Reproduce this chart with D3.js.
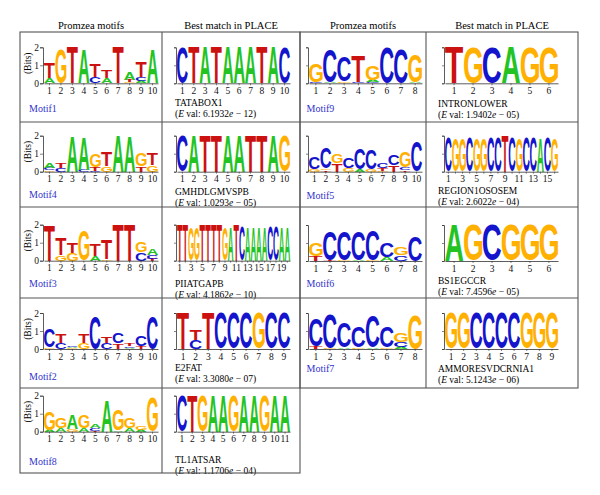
<!DOCTYPE html>
<html>
<head>
<meta charset="utf-8">
<script src="https://cdn.jsdelivr.net/npm/d3@7"></script>
<style>
  body { margin: 0; background: #fff; }
  text { font-family: "Liberation Serif", "DejaVu Serif", serif; }
</style>
</head>
<body>
<div id="content"></div>
<script>
// ---- data: bits per letter at every position ----
const motif1 = [{A:.3,T:.88},{G:1.9},{T:2},{A:1.9},{C:.35,T:.75},{A:.3,T:.4},{T:2},{G:.05,T:.15,A:.45},{A:.12,C:.22,T:.85},{A:1.9}];
const tatabox1 = [{C:2},{T:2},{A:2},{T:2},{A:2},{A:2},{A:2},{T:2},{A:2},{C:2}];
const motif4 = [{G:.08,C:.15,A:.3},{C:.2,T:.3},{A:1.95},{C:.12,A:1.8},{C:.05,T:.2,G:.75},{G:.3,T:.8},{A:2},{A:1.95},{T:.3,G:.75},{G:.35,T:.65}];
const gmhdlgmvspb = [{C:2},{A:2},{T:2},{T:2},{A:2},{A:2},{T:2},{T:2},{A:2},{G:2}];
const motif3 = [{T:1.95},{G:.3,T:.9},{G:.45,T:.58},{G:1.65},{A:.25,T:.65},{G:.1,T:1.05},{T:2},{T:2},{C:.45,G:.55},{T:.1,C:.2,A:.37}];
const piiatgapb = [{T:2},{T:2},{G:1.85},{G:1.85},{T:2},{T:2},{T:2},{T:2},{G:1.85},{A:1.9},{T:2},{C:1.9},{A:1.9},{A:1.9},{A:1.9},{A:1.9},{C:1.9},{C:1.9},{A:1.9},{A:1.9}];
const motif2 = [{G:.1,C:1.0},{C:.35,T:.5},{G:.05,A:.05,C:.1},{G:.35,T:.5},{C:1.85},{C:.35,T:.35},{T:.3,C:.55},{A:.05,C:.1,T:.15},{T:.15,C:.6},{C:1.85}];
const e2fat = [{T:2},{C:.5,T:.6},{T:2},{C:2},{C:2},{C:2},{G:2},{C:2},{C:2}];
const motif8 = [{A:.1,G:1.0},{A:.2,G:.55},{G:.15,A:.75},{A:.2,G:.7},{T:.05,C:.15,A:.2},{A:1.75},{A:.05,G:1.2},{A:.2,G:.6},{A:.1,G:.2},{G:1.9}];
const tl1atsar = [{C:2},{T:2},{G:2},{A:2},{A:2},{G:2},{A:2},{A:2},{G:2},{A:2},{A:2}];

const motif9 = [{C:.08,G:1.0},{A:.05,C:1.8},{G:.1,C:1.4},{C:.1,T:1.45},{C:.05,A:.1,G:.8},{C:2},{C:1.87},{A:.05,G:1.55}];
const intronlower = [{T:2},{G:2},{C:2},{A:2},{G:2},{G:2}];
const motif5 = [{G:.15,C:.68},{T:.08,G:.1,C:1.15},{T:.45,G:.52},{G:.22,C:.58},{A:.15,C:1.2},{G:.15,C:1.1},{G:.05,T:.15,C:.27},{T:.35,C:.57},{T:.08,C:.15,G:.87},{C:1.7}];
const region1ososem = [{C:1.9},{G:1.85},{G:1.85},{C:1.9},{G:1.85},{G:1.85},{C:1.9},{C:1.9},{T:2},{C:1.9},{G:1.85},{C:1.9},{C:1.9},{A:1.85},{C:1.9},{G:1.85}];
const motif6 = [{T:.25,G:.75},{T:.05,C:1.6},{G:.05,C:1.6},{A:.05,C:1.6},{G:.05,C:1.65},{A:.2,C:.77},{C:.3,G:.45},{C:1.37}];
const bs1egccr = [{A:2},{G:2},{C:2},{G:2},{G:2},{G:2}];
const motif7 = [{T:.15,C:1.55},{G:.05,C:1.9},{A:.08,C:1.4},{G:.1,C:1.2},{A:.08,C:1.75},{G:.08,C:1.15},{A:.1,C:.3,G:.5},{G:1.9}];
const ammoresvdcrnia1 = [{G:2},{G:2},{C:2},{C:2},{C:2},{C:2},{G:2},{G:2},{G:2}];

const motifNames = ["Motif1","Motif4","Motif3","Motif2","Motif8","Motif9","Motif5","Motif6","Motif7"];
const matchNames = ["TATABOX1","GMHDLGMVSPB","PIIATGAPB","E2FAT","TL1ATSAR","INTRONLOWER","REGION1OSOSEM","BS1EGCCR","AMMORESVDCRNIA1"];
const evalMantissa = ["6.1932","1.0293","4.1862","3.3080","1.1706","1.9402","2.6022","7.4596","5.1243"];
const evalExponent = ["12","05","10","07","04","05","04","05","06"];
const motifLogos = [motif1, motif4, motif3, motif2, motif8, motif9, motif5, motif6, motif7];
const matchLogos = [tatabox1, gmhdlgmvspb, piiatgapb, e2fat, tl1atsar, intronlower, region1ososem, bs1egccr, ammoresvdcrnia1];
const headers = ["Promzea motifs", "Best match in PLACE", "Promzea motifs", "Best match in PLACE"];

// ---- layout ----
const width = 600, height = 495;
const colX = [20, 162, 300, 426, 578];
const leftRowY = [32, 122, 207, 298, 388, 473];
const rightRowY = [32, 122, 207, 298, 388];
// per row: baseline of logo, motif name y, match name y
const leftRows = [
  {y0: 83.3, nameY: 108, matchY: 102.5},
  {y0: 171.7, nameY: 194, matchY: 192},
  {y0: 260.7, nameY: 283.3, matchY: 283.3},
  {y0: 349, nameY: 376.7, matchY: 367.3},
  {y0: 431.7, nameY: 461.7, matchY: 459.3}
];
const rightRows = [
  {y0: 83.3, nameY: 108, matchY: 104},
  {y0: 171.7, nameY: 195, matchY: 191},
  {y0: 261, nameY: 283.3, matchY: 280.7},
  {y0: 349, nameY: 368.3, matchY: 368.3}
];
const logoX = [[44, 158], [177, 290], [309, 422], [445, 558]];
const bitsH = 36;

const colors = {A: "#22c322", C: "#1414cc", G: "#ffb000", T: "#cc1111"};
const logoFont = "bold 100px 'Liberation Sans'";

// ink bounds of every letter, measured once
const ctx = document.createElement("canvas").getContext("2d");
ctx.font = logoFont;
const ink = {};
"ACGT".split("").forEach(function (L) {
  const m = ctx.measureText(L);
  ink[L] = {l: m.actualBoundingBoxLeft, r: m.actualBoundingBoxRight,
            a: m.actualBoundingBoxAscent, d: m.actualBoundingBoxDescent};
});

const svg = d3.select("#content").append("svg")
  .attr("width", width)
  .attr("height", height);

// headers
svg.selectAll(".hdr")
  .data(headers)
  .enter().append("text")
  .attr("class", "hdr")
  .attr("x", function (d, i) { return (colX[i] + colX[i + 1]) / 2; })
  .attr("y", 25.7)
  .attr("dy", "0.35em")
  .attr("text-anchor", "middle")
  .style("font-size", "10.5px")
  .text(function (d) { return d; });

function drawLogo(g, data, x0, x1, y0, withLabels) {
  const x = d3.scaleBand()
    .domain(d3.range(1, data.length + 1))
    .range([x0, x1])
    .paddingInner(0.04);
  const y = d3.scaleLinear().domain([0, 2]).range([y0, y0 - bitsH]);

  data.forEach(function (pos, i) {
    const stack = Object.entries(pos).sort(function (a, b) { return a[1] - b[1]; });
    let base = 0;
    stack.forEach(function (s) {
      const L = s[0], h = s[1];
      const m = ink[L];
      const w = x.bandwidth();
      const hp = y(base) - y(base + h);
      const sx = w / (m.l + m.r), sy = hp / (m.a + m.d);
      g.append("text")
        .attr("transform", "translate(" + x(i + 1) + "," + y(base) + ") scale(" + sx + "," + sy + ") translate(" + m.l + "," + (-m.d) + ")")
        .style("font", logoFont)
        .attr("fill", colors[L])
        .text(L);
      base += h;
    });
  });

  // bottom axis
  const many = data.length > 12;
  g.append("g")
    .attr("transform", "translate(0," + y0 + ")")
    .call(d3.axisBottom(x).tickSize(2).tickSizeOuter(0)
      .tickFormat(function (d) { return (!many || d % 2 === 1) ? d : ""; }))
    .call(function (a) {
      a.select(".domain").attr("stroke", "#333").attr("stroke-width", 0.8);
      a.selectAll(".tick line").attr("stroke", "#333").attr("stroke-width", 0.6);
      a.selectAll("text").style("font-family", "'Liberation Serif', serif")
        .style("font-size", "9.5px").attr("fill", "#111").attr("y", 4);
    });

  // left axis
  const ax = d3.axisLeft(y).tickValues([0, 1, 2]).tickSize(withLabels ? 3 : 2)
    .tickFormat(withLabels ? d3.format("d") : "");
  g.append("g")
    .attr("transform", "translate(" + (x0 - 1) + ",0)")
    .call(ax)
    .call(function (a) {
      a.select(".domain").attr("stroke", "#333").attr("stroke-width", 0.8);
      a.selectAll(".tick line").attr("stroke", "#333").attr("stroke-width", 0.6);
      a.selectAll("text").style("font-family", "'Liberation Serif', serif")
        .style("font-size", "9.5px").attr("fill", "#111").attr("x", -4);
    });

  if (withLabels) {
    g.append("text")
      .attr("transform", "translate(27.5," + (y0 - bitsH / 2 - 2) + ") rotate(-90)")
      .attr("text-anchor", "middle")
      .attr("dy", "0.35em")
      .style("font-size", "9.5px")
      .text("(Bits)");
  }
}

function drawPanel(k, row, side) {
  const c = side === 0 ? 0 : 2;
  const g = svg.append("g");
  drawLogo(g, motifLogos[k], logoX[c][0], logoX[c][1], row.y0, side === 0);
  drawLogo(g, matchLogos[k], logoX[c + 1][0], logoX[c + 1][1], row.y0, false);

  g.append("text")
    .attr("x", side === 0 ? 29 : 306.5)
    .attr("y", row.nameY)
    .attr("dy", "0.35em")
    .attr("fill", "#3333cc")
    .style("font-size", "10px")
    .text(motifNames[k]);

  const mx = side === 0 ? 175 : 438;
  g.append("text")
    .attr("x", mx)
    .attr("y", row.matchY)
    .attr("dy", "0.35em")
    .style("font-size", "9.5px")
    .text(matchNames[k]);

  const ev = g.append("text")
    .attr("x", mx)
    .attr("y", row.matchY + 11)
    .attr("dy", "0.35em")
    .style("font-size", "9.5px");
  ev.append("tspan").text("(");
  ev.append("tspan").style("font-style", "italic").text("E");
  ev.append("tspan").text(" val: " + evalMantissa[k]);
  ev.append("tspan").style("font-style", "italic").text("e");
  ev.append("tspan").text(" \u2212 " + evalExponent[k] + ")");
}

leftRows.forEach(function (r, i) { drawPanel(i, r, 0); });
rightRows.forEach(function (r, i) { drawPanel(i + 5, r, 1); });

// table grid
const grid = svg.append("g").attr("fill", "none").attr("stroke", "#555").attr("stroke-width", 1.1);
grid.append("rect").attr("x", colX[0]).attr("y", leftRowY[0])
  .attr("width", colX[2] - colX[0]).attr("height", leftRowY[5] - leftRowY[0]);
grid.append("rect").attr("x", colX[2]).attr("y", rightRowY[0])
  .attr("width", colX[4] - colX[2]).attr("height", rightRowY[4] - rightRowY[0]);
grid.append("line").attr("x1", colX[1]).attr("x2", colX[1]).attr("y1", leftRowY[0]).attr("y2", leftRowY[5]);
grid.append("line").attr("x1", colX[3]).attr("x2", colX[3]).attr("y1", rightRowY[0]).attr("y2", rightRowY[4]);
grid.selectAll(".hl").data(leftRowY.slice(1, 5)).enter().append("line")
  .attr("x1", colX[0]).attr("x2", colX[2]).attr("y1", function (d) { return d; }).attr("y2", function (d) { return d; });
grid.selectAll(".hr").data(rightRowY.slice(1, 4)).enter().append("line")
  .attr("x1", colX[2]).attr("x2", colX[4]).attr("y1", function (d) { return d; }).attr("y2", function (d) { return d; });
</script>
</body>
</html>
